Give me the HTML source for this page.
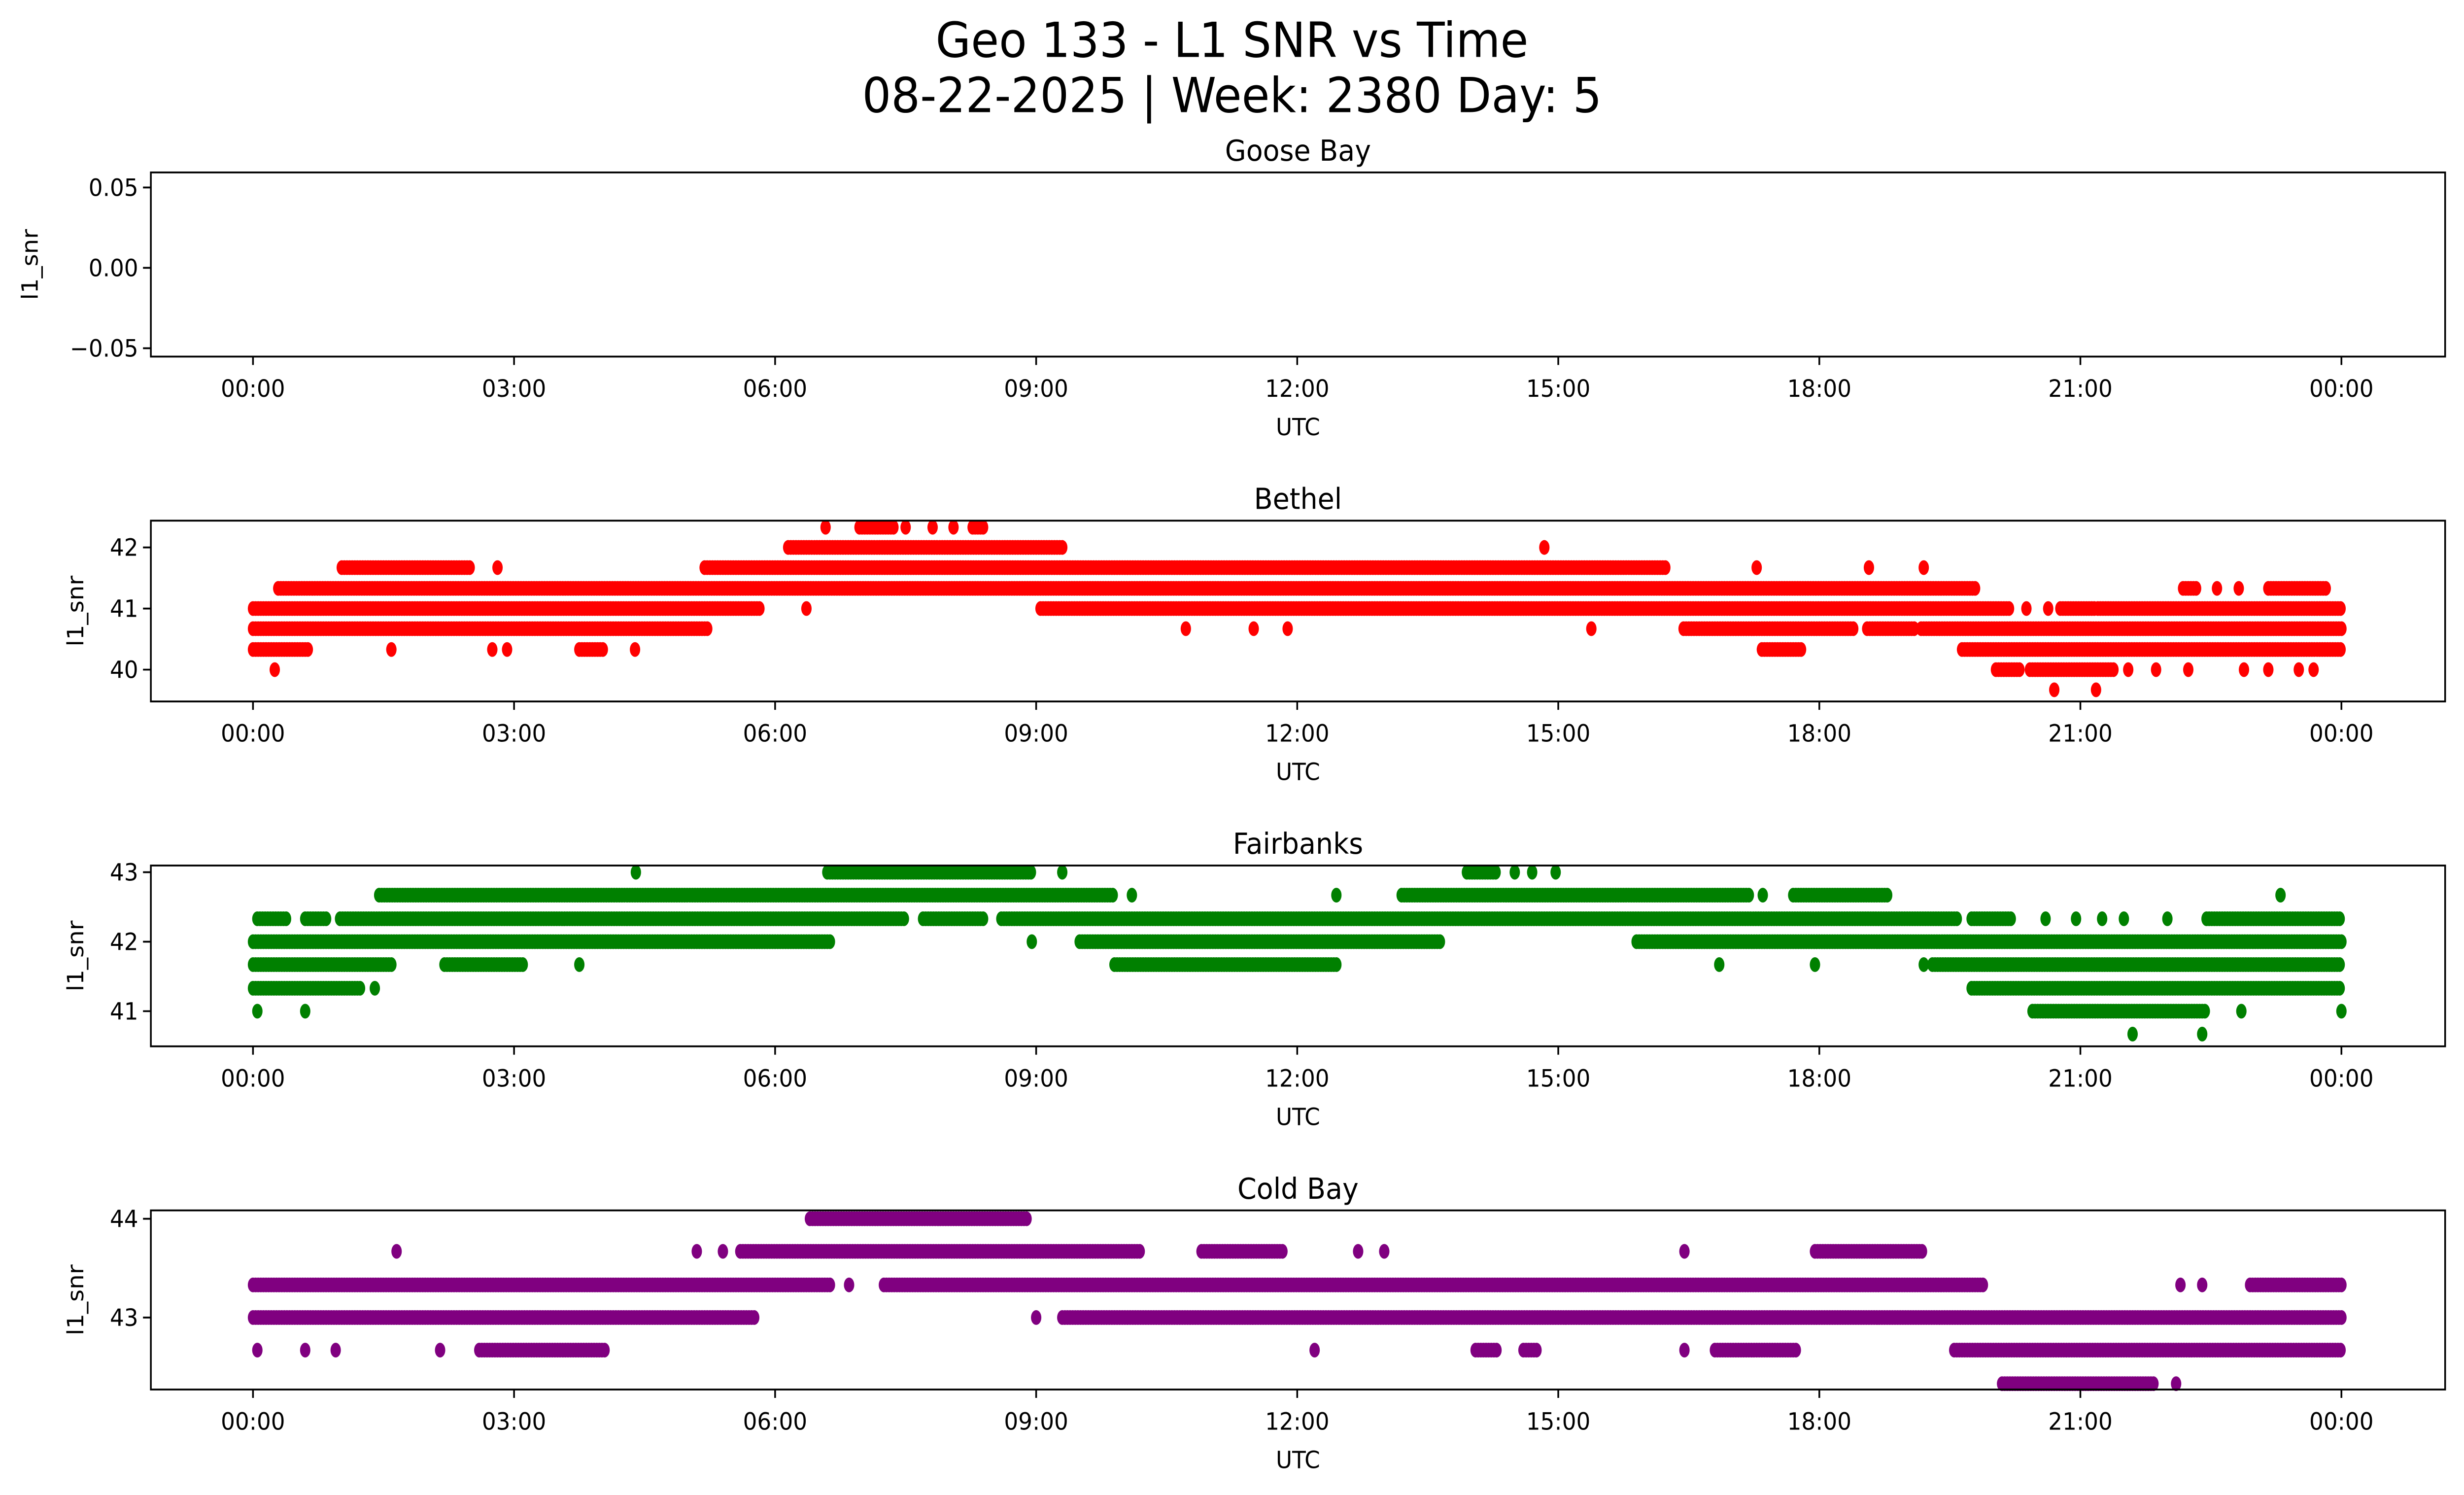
<!DOCTYPE html>
<html><head><meta charset="utf-8"><style>
html,body{margin:0;padding:0;background:#fff;width:100%;height:100%;overflow:hidden}
svg{display:block;position:absolute;left:0;top:0;width:100vw;height:100vh}
text{font-family:"DejaVu Sans","Liberation Sans",sans-serif;fill:#000}
</style></head><body>
<svg id="fig" viewBox="0 0 1568 893" preserveAspectRatio="none" xmlns="http://www.w3.org/2000/svg">
<rect x="0" y="0" width="1568" height="893" fill="#fff"/>
<text x="784" y="34" font-size="29" text-anchor="middle">Geo 133 - L1 SNR vs Time</text>
<text x="784" y="67" font-size="29" text-anchor="middle">08-22-2025 | Week: 2380 Day: 5</text>
<g id="plots"></g>
</svg>
<script>
// x-axis ticks (hours)
const tickHours = [0,3,6,9,12,15,18,21,24];
const tickLabels = ["00:00","03:00","06:00","09:00","12:00","15:00","18:00","21:00","00:00"];
const stations = ["Goose Bay","Bethel","Fairbanks","Cold Bay"];
const colors = ["#1f77b4","red","green","purple"];

// Goose Bay: no data
const gooseLevels = [];
const gooseStart = [];
const gooseEnd = [];

// Bethel runs: level, start hour, end hour
const bethelLevels = [42.33,42.33,42.33,42.33,42.33,42.33, 42,42, 41.67,41.67,41.67,41.67,41.67,41.67, 41.33,41.33,41.33,41.33,41.33, 41,41,41,41,41,41,41, 40.67,40.67,40.67,40.67,40.67,40.67,40.67,40.67, 40.33,40.33,40.33,40.33,40.33,40.33,40.33,40.33, 40,40,40,40,40,40,40,40,40,40, 39.67,39.67];
const bethelStart  = [6.58,6.97,7.5,7.81,8.05,8.27, 6.15,14.84, 1.02,2.81,5.19,17.28,18.57,19.2, 0.29,22.18,22.57,22.82,23.16, 0,6.36,9.05,20.38,20.63,20.77,21.2, 0,10.72,11.5,11.89,15.38,16.44,18.55,19.17, 0,1.59,2.75,2.92,3.75,4.39,17.34,19.64, 0.25,20.03,20.42,21.55,21.87,22.24,22.88,23.16,23.51,23.68, 20.7,21.18];
const bethelEnd    = [6.58,7.38,7.5,7.81,8.05,8.4, 9.32,14.84, 2.49,2.81,16.24,17.28,18.57,19.2, 19.8,22.34,22.57,22.82,23.82, 5.83,6.36,20.19,20.38,20.63,21.16,24, 5.22,10.72,11.5,11.89,15.38,18.39,19.1,24, 0.65,1.59,2.75,2.92,4.04,4.39,17.8,24, 0.25,20.3,21.4,21.55,21.87,22.24,22.88,23.16,23.51,23.68, 20.7,21.18];

// Fairbanks runs
const fairLevels = [43,43,43,43,43,43,43, 42.67,42.67,42.67,42.67,42.67,42.67,42.67, 42.33,42.33,42.33,42.33,42.33,42.33,42.33,42.33,42.33,42.33,42.33,42.33, 42,42,42,42, 41.67,41.67,41.67,41.67,41.67,41.67,41.67,41.67, 41.33,41.33,41.33, 41,41,41,41,41, 40.67,40.67];
const fairStart  = [4.4,6.6,9.3,13.95,14.5,14.7,14.97, 1.45,10.1,12.45,13.2,17.35,17.7,23.3, 0.05,0.6,1.0,7.7,8.6,19.75,20.6,20.95,21.25,21.5,22.0,22.45, 0,8.95,9.5,15.9, 0,2.2,3.75,9.9,16.85,17.95,19.2,19.3, 0,1.4,19.75, 0.05,0.6,20.45,22.85,24, 21.6,22.4];
const fairEnd    = [4.4,8.95,9.3,14.3,14.5,14.7,14.97, 9.9,10.1,12.45,17.2,17.35,18.8,23.3, 0.4,0.85,7.5,8.4,19.6,20.2,20.6,20.95,21.25,21.5,22.0,24, 6.65,8.95,13.65,24, 1.6,3.1,3.75,12.45,16.85,17.95,19.2,24, 1.25,1.4,24, 0.05,0.6,22.45,22.85,24, 21.6,22.4];

// Cold Bay runs
const coldLevels = [44, 43.67,43.67,43.67,43.67,43.67,43.67,43.67,43.67,43.67, 43.33,43.33,43.33,43.33,43.33,43.33, 43,43,43, 42.67,42.67,42.67,42.67,42.67,42.67,42.67,42.67,42.67,42.67,42.67, 42.33,42.33];
const coldStart  = [6.4, 1.65,5.1,5.4,5.6,10.9,12.7,13.0,16.45,17.95, 0,6.85,7.25,22.15,22.4,22.95, 0,9.0,9.3, 0.05,0.6,0.95,2.15,2.6,12.2,14.05,14.6,16.45,16.8,19.55, 20.1,22.1];
const coldEnd    = [8.9, 1.65,5.1,5.4,10.2,11.85,12.7,13.0,16.45,19.2, 6.65,6.85,19.9,22.15,22.4,24, 5.78,9.0,24, 0.05,0.6,0.95,2.15,4.05,12.2,14.3,14.75,16.45,17.75,24, 21.85,22.1];

const panels = [
  {top:103,bot:213, vRef:0.05, yRef:112, ppu:960, ticks:[0.05,0,-0.05], tl:["0.05","0.00","\u22120.05"], L:gooseLevels,S:gooseStart,E:gooseEnd},
  {top:311,bot:419, vRef:42, yRef:327, ppu:36.5, ticks:[40,41,42], tl:["40","41","42"], L:bethelLevels,S:bethelStart,E:bethelEnd},
  {top:517,bot:625, vRef:43, yRef:521, ppu:41.5, ticks:[41,42,43], tl:["41","42","43"], L:fairLevels,S:fairStart,E:fairEnd},
  {top:723,bot:830, vRef:44, yRef:728, ppu:59, ticks:[43,44], tl:["43","44"], L:coldLevels,S:coldStart,E:coldEnd}
];
const X0=96, X1=1556;
function xScale(h){return 161 + h*55.375;}
const NS="http://www.w3.org/2000/svg";
const root=document.getElementById("plots");
function mk(tag,attrs,parent){const e=document.createElementNS(NS,tag);for(const k in attrs)e.setAttribute(k,attrs[k]);parent.appendChild(e);return e;}

panels.forEach((p,i)=>{
  const yScale=v=>p.yRef+(p.vRef-v)*p.ppu;
  const g=mk("g",{},root);
  
  
  const t=mk("text",{x:(X0+X1)/2,y:p.top-7,"font-size":17.4,"text-anchor":"middle"},g);
  t.textContent=stations[i];
  
  
  const pts=mk("g",{fill:colors[i]},g);
  
  
  for(let k=0;k<p.L.length;k++){
    const y=yScale(p.L[k]);
    for(let h=p.S[k]; h<=p.E[k]+1e-9; h+=0.03){
      const c=mk("ellipse",{cx:xScale(h).toFixed(2),cy:y.toFixed(2),rx:3.3,ry:4.4},pts);
      
      
    }
  }
  const fr=mk("rect",{x:X0,y:p.top,width:X1-X0,height:p.bot-p.top,fill:"none",stroke:"#000","stroke-width":1.1},g);
  
  
  tickHours.forEach((h,j)=>{
    const x=xScale(h);
    mk("line",{x1:x,x2:x,y1:p.bot,y2:p.bot+5,stroke:"#000","stroke-width":1.1},g);
    const tx=mk("text",{x:x,y:p.bot+24,"font-size":14.2,"text-anchor":"middle"},g);
    tx.textContent=tickLabels[j];
    
    
  });
  const xl=mk("text",{x:826,y:p.bot+47,"font-size":14.2,"text-anchor":"middle"},g);
  xl.textContent="UTC";
  
  
  p.ticks.forEach((v,j)=>{
    const y=yScale(v);
    mk("line",{x1:X0-5,x2:X0,y1:y,y2:y,stroke:"#000","stroke-width":1.1},g);
    const ty=mk("text",{x:X0-8,y:y+5,"font-size":14.2,"text-anchor":"end"},g);
    ty.textContent=p.tl[j];
    
    
  });
  const yc=(p.top+p.bot)/2;
  const lx = i===0 ? 24 : 53;
  const yl=mk("text",{x:lx,y:yc,"font-size":14.2,"text-anchor":"middle",transform:`rotate(-90 ${lx} ${yc})`},g);
  yl.textContent="l1_snr";
  
  
});
</script>
</body></html>
